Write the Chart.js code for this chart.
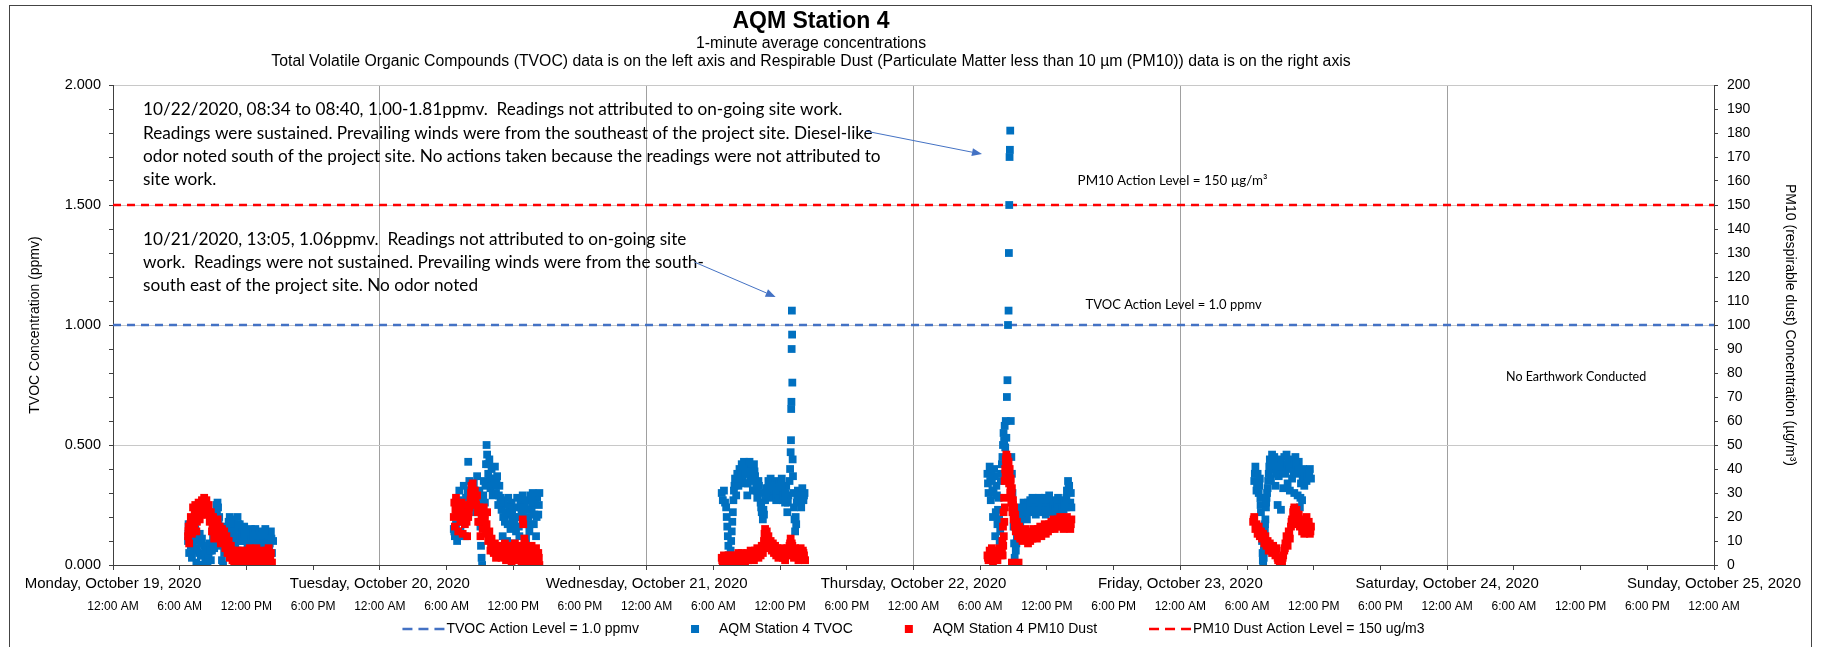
<!DOCTYPE html>
<html>
<head>
<meta charset="utf-8">
<title>AQM Station 4</title>
<script src="https://cdn.jsdelivr.net/npm/chart.js@4.4.0/dist/chart.umd.min.js"></script>
<style>
  html, body { margin: 0; padding: 0; background: #fff; }
  canvas { display: block; }
</style>
</head>
<body>
<canvas id="aqmChart" width="1821" height="647"></canvas>
<script>
// readings as [hour of day, value]; one list per day with data
const tvocOct19 = [[6.75,0.10],[6.8,0.17],[6.85,0.05],[6.9,0.14],[7.0,0.08],[7.05,0.16],[7.1,0.03],[7.2,0.12],[7.3,0.06],[7.4,0.15],[7.5,0.01],[7.6,0.10],[7.7,0.00],[7.8,0.13],[7.9,0.04],[8.0,0.11],[8.1,0.00],[8.2,0.08],[8.3,0.02],[8.4,0.07],[8.5,0.00],[8.6,0.05],[8.7,0.09],[8.8,0.02],[8.9,0.06],[9.0,0.12],[9.1,0.07],[9.2,0.19],[9.3,0.25],[9.35,0.21],[9.45,0.24],[9.5,0.17],[9.6,0.12],[9.7,0.08],[9.8,0.02],[9.9,0.00],[10.0,0.05],[10.1,0.10],[10.2,0.16],[10.3,0.13],[10.4,0.18],[10.5,0.20],[10.6,0.14],[10.7,0.19],[10.8,0.11],[10.9,0.17],[11.0,0.08],[11.1,0.15],[11.2,0.20],[11.3,0.12],[11.4,0.17],[11.5,0.06],[11.6,0.14],[11.7,0.10],[11.8,0.16],[11.9,0.04],[12.0,0.13],[12.1,0.08],[12.2,0.00],[12.3,0.12],[12.4,0.15],[12.5,0.06],[12.6,0.14],[12.7,0.09],[12.8,0.15],[12.9,0.03],[13.0,0.12],[13.1,0.07],[13.2,0.14],[13.3,0.05],[13.4,0.13],[13.5,0.00],[13.6,0.10],[13.7,0.15],[13.8,0.06],[13.9,0.12],[14.0,0.02],[14.1,0.09],[14.2,0.14],[14.3,0.05],[14.4,0.10],
  [6.78,0.13],[6.95,0.11],[7.15,0.09],[7.35,0.12],[7.55,0.07],[7.75,0.05],[7.95,0.09],[8.15,0.04],[8.35,0.05],[8.55,0.03],[8.75,0.06],[9.05,0.09],[9.25,0.22],[9.4,0.26],[9.55,0.20],[10.05,0.08],[10.25,0.11],[10.45,0.15],[10.65,0.17],[10.85,0.14],[11.05,0.12],[11.25,0.17],[11.45,0.10],[11.65,0.12],[11.85,0.13],[12.05,0.10],[12.25,0.06],[12.45,0.11],[12.65,0.12],[12.85,0.12],[13.05,0.09],[13.25,0.11],[13.45,0.09],[13.65,0.13],[13.85,0.09],[14.05,0.06],[14.25,0.11]];
const pm10Oct19 = [[6.75,12],[6.8,16],[6.85,9],[6.9,14],[7.0,20],[7.1,13],[7.2,24],[7.3,17],[7.4,25],[7.5,14],[7.6,22],[7.7,26],[7.8,19],[7.9,25],[8.0,27],[8.1,22],[8.2,28],[8.3,24],[8.4,27],[8.5,21],[8.6,25],[8.7,18],[8.8,22],[8.9,14],[9.0,20],[9.1,11],[9.2,18],[9.3,15],[9.4,19],[9.5,12],[9.6,16],[9.7,9],[9.8,15],[9.9,10],[10.0,14],[10.1,7],[10.2,12],[10.3,5],[10.4,10],[10.5,3],[10.6,8],[10.7,4],[10.8,6],[10.9,1],[11.0,5],[11.1,2],[11.2,6],[11.3,0],[11.4,4],[11.5,2],[11.6,6],[11.7,1],[11.8,5],[11.9,0],[12.0,3],[12.1,6],[12.2,2],[12.3,7],[12.4,3],[12.5,0],[12.6,5],[12.7,1],[12.8,4],[12.9,7],[13.0,2],[13.1,5],[13.2,0],[13.3,4],[13.4,6],[13.5,2],[13.6,5],[13.7,1],[13.8,6],[13.9,3],[14.0,7],[14.1,2],[14.2,5],[14.3,1],
  [6.78,14],[6.95,17],[7.15,18],[7.35,21],[7.55,18],[7.75,23],[7.95,21],[8.15,25],[8.35,21],[8.55,23],[8.75,20],[8.95,17],[9.15,15],[9.35,17],[9.55,14],[9.75,12],[9.95,12],[10.15,9],[10.35,7],[10.55,6],[10.75,2],[10.95,3],[11.15,4],[11.35,2],[11.55,4],[11.75,3],[11.95,2],[12.15,4],[12.35,5],[12.55,3],[12.75,3],[12.95,5],[13.15,3],[13.35,2],[13.55,4],[13.75,3],[13.95,5],[14.15,4]];

const tvocOct20 = [[6.65,0.15],[6.75,0.12],[6.85,0.17],[6.95,0.10],[7.05,0.22],[7.15,0.31],[7.25,0.14],[7.35,0.26],[7.45,0.18],[7.55,0.33],[7.65,0.12],[7.75,0.28],[7.85,0.22],[7.95,0.43],[8.05,0.35],[8.15,0.27],[8.25,0.30],[8.35,0.24],[8.45,0.34],[8.55,0.29],[8.65,0.22],[8.75,0.37],[8.85,0.25],[8.95,0.31],[9.05,0.16],[9.1,0.08],[9.15,0.03],[9.2,0.00],[9.25,0.20],[9.35,0.35],[9.45,0.26],[9.55,0.42],[9.6,0.50],[9.65,0.46],[9.75,0.38],[9.85,0.44],[9.95,0.32],[10.05,0.40],[10.15,0.29],[10.25,0.36],[10.35,0.41],[10.45,0.30],[10.55,0.37],[10.65,0.25],[10.75,0.33],[10.85,0.28],[10.95,0.23],[11.05,0.12],[11.15,0.27],[11.25,0.18],[11.35,0.25],[11.45,0.10],[11.55,0.28],[11.65,0.21],[11.75,0.15],[11.85,0.26],[11.95,0.19],[12.05,0.09],[12.15,0.24],[12.25,0.14],[12.35,0.28],[12.45,0.20],[12.55,0.12],[12.65,0.27],[12.75,0.22],[12.85,0.29],[12.95,0.17],[13.05,0.25],[13.15,0.11],[13.25,0.27],[13.35,0.20],[13.45,0.14],[13.55,0.29],[13.65,0.23],[13.75,0.30],[13.85,0.17],[13.95,0.26],[14.05,0.12],[14.15,0.28],[14.25,0.21],[14.35,0.30],
  [6.7,0.14],[6.9,0.13],[7.1,0.27],[7.3,0.20],[7.5,0.24],[7.7,0.19],[7.9,0.31],[8.1,0.31],[8.3,0.27],[8.5,0.31],[8.7,0.27],[8.9,0.28],[9.3,0.29],[9.5,0.33],[9.7,0.42],[9.9,0.36],[10.1,0.34],[10.3,0.33],[10.5,0.34],[10.7,0.29],[10.9,0.26],[11.1,0.20],[11.3,0.22],[11.5,0.17],[11.7,0.24],[11.9,0.22],[12.1,0.17],[12.3,0.20],[12.5,0.16],[12.7,0.24],[12.9,0.23],[13.1,0.18],[13.3,0.23],[13.5,0.17],[13.7,0.26],[13.9,0.21],[14.1,0.20],[14.3,0.25]];
const pm10Oct20 = [[6.65,20],[6.7,26],[6.75,16],[6.85,28],[6.95,22],[7.05,14],[7.15,24],[7.25,18],[7.35,26],[7.45,13],[7.55,22],[7.65,17],[7.75,25],[7.85,12],[7.95,20],[8.05,24],[8.15,27],[8.25,33],[8.3,30],[8.35,34],[8.45,28],[8.55,31],[8.65,25],[8.75,29],[8.85,18],[8.95,24],[9.05,12],[9.15,21],[9.25,15],[9.35,24],[9.45,19],[9.55,13],[9.65,22],[9.75,10],[9.85,14],[9.95,6],[10.05,11],[10.15,8],[10.25,5],[10.35,9],[10.45,3],[10.55,7],[10.65,4],[10.75,8],[10.85,5],[10.95,3],[11.05,7],[11.15,4],[11.25,9],[11.35,2],[11.45,6],[11.55,3],[11.65,8],[11.75,5],[11.85,1],[11.95,7],[12.05,4],[12.15,9],[12.25,2],[12.35,6],[12.45,3],[12.55,8],[12.65,5],[12.75,1],[12.85,19],[12.9,17],[12.95,6],[13.0,11],[13.05,9],[13.15,3],[13.25,7],[13.35,0],[13.45,5],[13.55,2],[13.65,8],[13.75,4],[13.85,6],[13.95,1],[14.05,7],[14.15,3],[14.25,5],[14.35,0],
  [6.8,23],[7.0,25],[7.2,21],[7.4,20],[7.6,19],[7.8,18],[8.0,22],[8.2,30],[8.4,31],[8.6,27],[8.8,22],[9.0,18],[9.2,18],[9.4,21],[9.6,17],[9.8,12],[10.0,9],[10.2,6],[10.4,6],[10.6,5],[10.8,6],[11.0,5],[11.2,6],[11.4,4],[11.6,5],[11.8,3],[12.0,5],[12.2,6],[12.4,4],[12.6,6],[12.8,3],[13.1,6],[13.3,4],[13.5,3],[13.7,6],[13.9,4],[14.1,5],[14.3,3]];

const tvocOct21 = [[6.75,0.30],[6.85,0.27],[6.95,0.31],[7.05,0.26],[7.15,0.24],[7.2,0.20],[7.25,0.16],[7.3,0.12],[7.35,0.08],[7.4,0.04],[7.45,0.00],[7.5,0.02],[7.55,0.06],[7.6,0.10],[7.65,0.14],[7.7,0.18],[7.75,0.22],[7.8,0.27],[7.85,0.31],[7.95,0.36],[8.05,0.29],[8.15,0.38],[8.25,0.33],[8.35,0.40],[8.45,0.35],[8.55,0.42],[8.65,0.37],[8.75,0.43],[8.85,0.34],[8.95,0.41],[9.05,0.29],[9.15,0.38],[9.25,0.43],[9.35,0.36],[9.45,0.40],[9.55,0.31],[9.65,0.42],[9.75,0.37],[9.85,0.33],[9.95,0.28],[10.05,0.35],[10.15,0.30],[10.25,0.26],[10.35,0.22],[10.45,0.19],[10.55,0.21],[10.65,0.27],[10.75,0.32],[10.85,0.29],[10.95,0.35],[11.05,0.31],[11.15,0.36],[11.25,0.28],[11.35,0.33],[11.45,0.30],[11.55,0.35],[11.65,0.27],[11.75,0.32],[11.85,0.29],[11.95,0.34],[12.05,0.30],[12.15,0.36],[12.25,0.27],[12.35,0.31],[12.45,0.26],[12.55,0.33],[12.65,0.22],[12.75,0.29],[12.85,0.35],[12.9,0.40],[12.95,0.47],[12.98,0.52],[13.0,0.65],[13.02,0.68],[13.04,0.90],[13.06,1.06],[13.08,0.96],[13.1,0.76],[13.13,0.44],[13.16,0.37],[13.2,0.30],[13.25,0.24],[13.3,0.19],[13.35,0.14],[13.4,0.20],[13.5,0.26],[13.6,0.31],[13.7,0.27],[13.8,0.30],[13.9,0.24],[14.0,0.32],[14.1,0.27],[14.2,0.30],
  [7.9,0.33],[8.1,0.34],[8.3,0.36],[8.5,0.38],[8.7,0.40],[8.9,0.38],[9.1,0.34],[9.3,0.39],[9.5,0.35],[9.7,0.39],[9.9,0.31],[10.1,0.33],[10.3,0.24],[10.5,0.23],[10.7,0.30],[10.9,0.32],[11.1,0.33],[11.3,0.31],[11.5,0.32],[11.7,0.30],[11.9,0.31],[12.1,0.33],[12.3,0.29],[12.5,0.30],[12.7,0.26],[13.45,0.17],[13.55,0.29],[13.75,0.29],[13.95,0.28],[14.15,0.29]];
const pm10Oct21 = [[6.75,3],[6.85,1],[6.95,4],[7.05,0],[7.15,3],[7.25,1],[7.35,4],[7.45,0],[7.55,2],[7.65,4],[7.75,1],[7.85,3],[7.95,0],[8.05,4],[8.15,2],[8.25,5],[8.35,1],[8.45,3],[8.55,5],[8.65,2],[8.75,4],[8.85,1],[8.95,3],[9.05,5],[9.15,2],[9.25,4],[9.35,6],[9.45,3],[9.55,5],[9.65,2],[9.75,6],[9.85,4],[9.95,7],[10.05,3],[10.15,6],[10.25,4],[10.35,8],[10.45,5],[10.55,10],[10.6,13],[10.65,15],[10.7,12],[10.8,14],[10.85,9],[10.95,12],[11.05,7],[11.15,10],[11.25,6],[11.35,9],[11.45,5],[11.55,8],[11.65,4],[11.75,7],[11.85,3],[11.95,6],[12.05,4],[12.15,7],[12.25,3],[12.35,6],[12.45,2],[12.55,5],[12.65,7],[12.75,4],[12.85,8],[12.95,11],[13.05,9],[13.15,6],[13.25,3],[13.35,7],[13.45,4],[13.55,6],[13.65,2],[13.75,5],[13.85,7],[13.95,3],[14.05,6],[14.15,4],[14.25,2],
  [6.8,2],[7.0,2],[7.2,2],[7.4,2],[7.6,3],[7.8,2],[8.0,2],[8.2,3],[8.4,2],[8.6,4],[8.8,3],[9.0,4],[9.2,3],[9.4,4],[9.6,4],[9.8,5],[10.0,5],[10.2,5],[10.4,6],[10.75,13],[10.9,11],[11.1,9],[11.3,8],[11.5,7],[11.7,6],[11.9,5],[12.1,5],[12.3,5],[12.5,4],[12.7,6],[12.9,9],[13.1,8],[13.3,5],[13.5,5],[13.7,4],[13.9,5],[14.1,5]];

const tvocOct22 = [[6.65,0.38],[6.75,0.30],[6.85,0.41],[6.95,0.27],[7.05,0.36],[7.15,0.20],[7.25,0.40],[7.35,0.12],[7.45,0.33],[7.55,0.17],[7.65,0.28],[7.75,0.10],[7.85,0.35],[7.95,0.42],[8.0,0.45],[8.05,0.50],[8.1,0.55],[8.15,0.52],[8.2,0.58],[8.25,0.49],[8.3,0.60],[8.35,0.53],[8.4,0.70],[8.45,0.77],[8.5,1.00],[8.55,1.06],[8.58,1.30],[8.61,1.50],[8.64,1.70],[8.67,1.73],[8.7,1.81],[8.75,0.60],[8.8,0.45],[8.85,0.38],[8.9,0.30],[8.95,0.23],[9.0,0.16],[9.05,0.09],[9.1,0.03],[9.15,0.00],[9.2,0.06],[9.3,0.12],[9.4,0.18],[9.5,0.22],[9.6,0.17],[9.7,0.24],[9.8,0.20],[9.9,0.26],[10.0,0.21],[10.1,0.25],[10.2,0.19],[10.3,0.26],[10.4,0.22],[10.5,0.27],[10.6,0.23],[10.7,0.28],[10.8,0.24],[10.9,0.27],[11.0,0.21],[11.1,0.26],[11.2,0.23],[11.3,0.28],[11.4,0.25],[11.5,0.22],[11.6,0.27],[11.7,0.24],[11.8,0.28],[11.9,0.21],[12.0,0.26],[12.1,0.23],[12.2,0.29],[12.3,0.25],[12.4,0.22],[12.5,0.27],[12.6,0.24],[12.7,0.20],[12.8,0.26],[12.9,0.23],[13.0,0.28],[13.1,0.22],[13.2,0.25],[13.3,0.20],[13.4,0.26],[13.5,0.23],[13.6,0.27],[13.7,0.24],[13.8,0.31],[13.9,0.35],[14.0,0.33],[14.1,0.26],[14.2,0.24],
  [6.7,0.34],[6.9,0.35],[7.0,0.39],[7.1,0.31],[7.2,0.30],[7.3,0.37],[7.4,0.22],[7.5,0.29],[7.6,0.23],[7.7,0.19],[7.8,0.14],[7.9,0.38],[9.25,0.09],[9.35,0.15],[9.45,0.20],[9.55,0.19],[9.65,0.21],[9.75,0.22],[9.85,0.23],[9.95,0.24],[10.15,0.22],[10.35,0.24],[10.55,0.25],[10.75,0.26],[10.95,0.24],[11.15,0.24],[11.35,0.26],[11.55,0.25],[11.75,0.26],[11.95,0.24],[12.15,0.26],[12.35,0.24],[12.55,0.25],[12.75,0.23],[12.95,0.25],[13.15,0.24],[13.35,0.23],[13.55,0.25],[13.75,0.28],[13.95,0.32],[14.15,0.30]];
const pm10Oct22 = [[6.65,4],[6.75,2],[6.85,6],[6.95,3],[7.05,7],[7.15,1],[7.25,5],[7.35,3],[7.45,6],[7.55,2],[7.65,5],[7.75,7],[7.85,4],[7.95,6],[8.0,10],[8.05,16],[8.1,22],[8.15,28],[8.2,35],[8.25,40],[8.3,44],[8.35,46],[8.4,42],[8.45,45],[8.5,38],[8.55,43],[8.6,34],[8.65,40],[8.7,30],[8.75,36],[8.8,26],[8.85,1],[8.85,32],[8.9,22],[8.95,27],[9.0,19],[9.05,24],[9.1,16],[9.15,21],[9.2,14],[9.3,18],[9.4,12],[9.45,1],[9.5,16],[9.6,11],[9.7,14],[9.8,10],[9.9,13],[10.0,11],[10.1,15],[10.2,12],[10.3,9],[10.4,13],[10.5,10],[10.6,14],[10.7,11],[10.8,15],[10.9,12],[11.0,14],[11.1,11],[11.2,15],[11.3,13],[11.4,16],[11.5,12],[11.6,15],[11.7,14],[11.8,17],[11.9,13],[12.0,16],[12.1,14],[12.2,17],[12.3,15],[12.4,18],[12.5,16],[12.6,19],[12.7,15],[12.8,18],[12.9,16],[13.0,19],[13.1,17],[13.2,20],[13.3,16],[13.4,18],[13.5,15],[13.6,19],[13.7,17],[13.8,20],[13.9,16],[14.0,18],[14.1,15],[14.2,19],
  [6.7,3],[6.9,5],[7.1,4],[7.3,4],[7.5,4],[7.7,6],[7.9,5],[8.02,4],[8.07,8],[8.12,12],[8.17,18],[8.22,24],[8.28,38],[8.33,41],[8.43,44],[8.53,40],[8.63,37],[8.73,33],[8.83,29],[8.93,25],[9.03,21],[9.13,18],[9.25,16],[9.35,15],[9.55,13],[9.75,12],[9.95,12],[10.15,13],[10.35,11],[10.55,12],[10.75,13],[10.95,13],[11.15,13],[11.35,14],[11.55,14],[11.75,15],[11.95,15],[12.15,16],[12.35,16],[12.55,17],[12.75,17],[12.95,17],[13.15,18],[13.35,17],[13.55,17],[13.75,18],[13.95,17],[14.15,17]];

const tvocOct23 = [[6.65,0.35],[6.75,0.41],[6.85,0.31],[6.95,0.38],[7.05,0.30],[7.15,0.36],[7.2,0.28],[7.25,0.22],[7.3,0.16],[7.35,0.10],[7.4,0.05],[7.45,0.00],[7.5,0.03],[7.55,0.08],[7.6,0.14],[7.65,0.19],[7.7,0.24],[7.75,0.28],[7.85,0.32],[7.95,0.38],[8.05,0.44],[8.15,0.36],[8.25,0.46],[8.35,0.40],[8.45,0.45],[8.55,0.33],[8.65,0.42],[8.75,0.25],[8.85,0.37],[8.95,0.44],[9.05,0.23],[9.15,0.40],[9.25,0.32],[9.35,0.45],[9.45,0.38],[9.55,0.46],[9.65,0.34],[9.75,0.43],[9.85,0.31],[9.95,0.44],[10.05,0.36],[10.15,0.42],[10.25,0.30],[10.35,0.45],[10.45,0.38],[10.55,0.29],[10.65,0.43],[10.75,0.24],[10.85,0.34],[10.95,0.27],[11.05,0.40],[11.15,0.33],[11.25,0.38],[11.35,0.35],[11.45,0.39],[11.55,0.37],[11.65,0.40],[11.75,0.36],
  [6.7,0.38],[6.9,0.34],[7.1,0.33],[7.22,0.25],[7.32,0.13],[7.42,0.02],[7.52,0.06],[7.62,0.17],[7.72,0.26],[7.8,0.30],[7.9,0.35],[8.0,0.41],[8.1,0.40],[8.2,0.42],[8.3,0.43],[8.4,0.42],[8.5,0.40],[8.6,0.38],[8.8,0.40],[9.0,0.41],[9.2,0.42],[9.4,0.41],[9.6,0.42],[9.8,0.40],[10.0,0.41],[10.2,0.39],[10.4,0.42],[10.6,0.40],[10.8,0.28],[11.0,0.37],[11.2,0.36],[11.4,0.37],[11.6,0.38]];
const pm10Oct23 = [[6.55,18],[6.65,20],[6.75,15],[6.85,17],[6.95,13],[7.05,16],[7.15,12],[7.25,14],[7.35,11],[7.45,13],[7.55,9],[7.65,12],[7.75,8],[7.85,10],[7.95,6],[8.05,9],[8.15,7],[8.25,5],[8.35,8],[8.45,6],[8.55,4],[8.65,7],[8.75,3],[8.85,2],[8.95,1],[9.05,3],[9.15,1],[9.25,4],[9.35,6],[9.45,9],[9.55,12],[9.65,8],[9.75,14],[9.85,11],[9.95,16],[10.05,19],[10.15,22],[10.25,24],[10.35,20],[10.45,23],[10.55,17],[10.65,21],[10.75,16],[10.85,19],[10.95,14],[11.05,18],[11.15,13],[11.25,17],[11.35,20],[11.45,15],[11.55,18],[11.65,13],[11.75,16],
  [6.6,19],[6.8,16],[7.0,14],[7.2,13],[7.4,12],[7.6,10],[7.8,9],[8.0,8],[8.2,6],[8.4,6],[8.6,5],[8.8,2],[9.0,2],[9.2,3],[9.4,7],[9.6,10],[9.8,13],[10.0,18],[10.2,23],[10.4,22],[10.6,19],[10.8,17],[11.0,16],[11.2,15],[11.4,17],[11.6,16],[11.7,14]];

const tvocActionLevel = 1.0;   // ppmv
const pm10ActionLevel = 150;   // ug/m3

const dayLabels = ['Monday, October 19, 2020', 'Tuesday, October 20, 2020', 'Wednesday, October 21, 2020',
  'Thursday, October 22, 2020', 'Friday, October 23, 2020', 'Saturday, October 24, 2020', 'Sunday, October 25, 2020'];
const timeLabels = ['12:00 AM', '6:00 AM', '12:00 PM', '6:00 PM'];

const noteOct22 = [
  '10/22/2020, 08:34 to 08:40, 1.00-1.81ppmv.  Readings not attributed to on-going site work.',
  'Readings were sustained. Prevailing winds were from the southeast of the project site. Diesel-like',
  'odor noted south of the project site. No actions taken because the readings were not attributed to',
  'site work.'
];
const noteOct21 = [
  '10/21/2020, 13:05, 1.06ppmv.  Readings not attributed to on-going site',
  'work.  Readings were not sustained. Prevailing winds were from the south-',
  'south east of the project site. No odor noted'
];

const TVOC_BLUE = '#0070C0';
const PM_RED = '#FF0000';
const LEVEL_BLUE = '#4472C4';
const AXIS_FONT = '"Liberation Sans", Arial, sans-serif';
const NOTE_FONT = 'Lato, "Liberation Sans", sans-serif';
const TOTAL_HOURS = 144;

// day 0 is Monday, October 19
function toPoints(days) {
  const pts = [];
  days.forEach((readings, day) => {
    readings.forEach(r => pts.push({ x: day * 24 + r[0], y: r[1] }));
  });
  return pts;
}

const tvocPoints = toPoints([tvocOct19, tvocOct20, tvocOct21, tvocOct22, tvocOct23]);
const pm10Points = toPoints([pm10Oct19, pm10Oct20, pm10Oct21, pm10Oct22, pm10Oct23]);

function isStep(v, step) {
  return Math.abs(v / step - Math.round(v / step)) < 1e-6;
}

function drawArrow(ctx, x1, y1, x2, y2) {
  const a = Math.atan2(y2 - y1, x2 - x1);
  const len = 10, half = 4;
  ctx.beginPath();
  ctx.moveTo(x1, y1);
  ctx.lineTo(x2 - len * Math.cos(a), y2 - len * Math.sin(a));
  ctx.stroke();
  ctx.beginPath();
  ctx.moveTo(x2, y2);
  ctx.lineTo(x2 - len * Math.cos(a) + half * Math.sin(a), y2 - len * Math.sin(a) - half * Math.cos(a));
  ctx.lineTo(x2 - len * Math.cos(a) - half * Math.sin(a), y2 - len * Math.sin(a) + half * Math.cos(a));
  ctx.closePath();
  ctx.fill();
}

const decorPlugin = {
  id: 'decor',
  beforeDraw(chart) {
    const ctx = chart.ctx;
    ctx.save();
    ctx.fillStyle = '#fff';
    ctx.fillRect(0, 0, chart.width, chart.height);
    ctx.strokeStyle = '#444';
    ctx.lineWidth = 1;
    ctx.strokeRect(9.5, 5.5, 1802, 700);
    ctx.restore();
  },
  afterDraw(chart) {
    const ctx = chart.ctx;
    const xs = chart.scales.x, ys = chart.scales.y, y1s = chart.scales.y1;
    ctx.save();

    // titles
    ctx.fillStyle = '#000';
    ctx.textAlign = 'center';
    ctx.textBaseline = 'middle';
    ctx.font = 'bold 23px ' + AXIS_FONT;
    ctx.fillText('AQM Station 4', 811, 22);
    ctx.font = '15.8px ' + AXIS_FONT;
    ctx.fillText('1-minute average concentrations', 811, 44);
    ctx.fillText('Total Volatile Organic Compounds (TVOC) data is on the left axis and Respirable Dust (Particulate Matter less than 10 \u00b5m (PM10)) data is on the right axis', 811, 62);

    // event notes
    ctx.textAlign = 'left';
    ctx.font = '17.2px ' + NOTE_FONT;
    const noteX = xs.getPixelForValue(2.7);
    let ny = ys.getPixelForValue(1.896);
    noteOct22.forEach(line => { ctx.fillText(line, noteX, ny); ny += 23.3; });
    ny = ys.getPixelForValue(1.358);
    noteOct21.forEach(line => { ctx.fillText(line, noteX, ny); ny += 23.3; });

    ctx.textAlign = 'center';
    ctx.font = '13.4px ' + NOTE_FONT;
    ctx.fillText('PM10 Action Level = 150 \u00b5g/m\u00b3', xs.getPixelForValue(95.3), y1s.getPixelForValue(160));
    ctx.font = '13px ' + NOTE_FONT;
    ctx.fillText('TVOC Action Level = 1.0 ppmv', xs.getPixelForValue(95.4), ys.getPixelForValue(1.083));
    ctx.font = '12.5px ' + NOTE_FONT;
    ctx.fillText('No Earthwork Conducted', xs.getPixelForValue(131.6), ys.getPixelForValue(0.783));

    ctx.strokeStyle = LEVEL_BLUE;
    ctx.fillStyle = LEVEL_BLUE;
    ctx.lineWidth = 1;
    drawArrow(ctx, xs.getPixelForValue(67.7), ys.getPixelForValue(1.808), xs.getPixelForValue(78.16), ys.getPixelForValue(1.712));
    drawArrow(ctx, xs.getPixelForValue(52.3), ys.getPixelForValue(1.262), xs.getPixelForValue(59.6), ys.getPixelForValue(1.117));

    // legend
    ctx.font = '14px ' + AXIS_FONT;
    const items = chart.data.datasets.map(ds => ({
      dashed: ds.type === 'line',
      color: ds.type === 'line' ? ds.borderColor : ds.backgroundColor,
      text: ds.label
    }));
    const gap = 52;
    const widths = items.map(it => (it.dashed ? 44 : 28) + ctx.measureText(it.text).width);
    const total = widths.reduce((a, b) => a + b, 0) + gap * (items.length - 1);
    let lx = (chart.chartArea.left + chart.chartArea.right) / 2 - total / 2;
    const ly = 629;
    ctx.textAlign = 'left';
    items.forEach((it, i) => {
      if (it.dashed) {
        ctx.strokeStyle = it.color;
        ctx.lineWidth = 2.5;
        ctx.setLineDash([10, 6]);
        ctx.beginPath();
        ctx.moveTo(lx, ly);
        ctx.lineTo(lx + 42, ly);
        ctx.stroke();
        ctx.setLineDash([]);
        ctx.fillStyle = '#000';
        ctx.fillText(it.text, lx + 44, ly);
      } else {
        ctx.fillStyle = it.color;
        ctx.fillRect(lx, ly - 4, 8, 8);
        ctx.fillStyle = '#000';
        ctx.fillText(it.text, lx + 28, ly);
      }
      lx += widths[i] + gap;
    });
    ctx.restore();
  }
};

new Chart(document.getElementById('aqmChart'), {
  type: 'scatter',
  data: {
    datasets: [
      {
        type: 'line',
        label: 'TVOC Action Level = 1.0 ppmv',
        data: [{ x: 0, y: tvocActionLevel }, { x: TOTAL_HOURS, y: tvocActionLevel }],
        showLine: true,
        borderColor: LEVEL_BLUE,
        borderWidth: 2.5,
        borderDash: [8, 6],
        pointRadius: 0,
        yAxisID: 'y',
        order: 3
      },
      {
        label: 'AQM Station 4 TVOC',
        data: tvocPoints,
        backgroundColor: TVOC_BLUE,
        borderWidth: 0,
        pointStyle: 'rect',
        pointRadius: 5.5,
        yAxisID: 'y',
        order: 1
      },
      {
        label: 'AQM Station 4 PM10 Dust',
        data: pm10Points,
        backgroundColor: PM_RED,
        borderWidth: 0,
        pointStyle: 'rect',
        pointRadius: 5.5,
        yAxisID: 'y1',
        order: 0
      },
      {
        type: 'line',
        label: 'PM10 Dust Action Level = 150 ug/m3',
        data: [{ x: 0, y: pm10ActionLevel }, { x: TOTAL_HOURS, y: pm10ActionLevel }],
        showLine: true,
        borderColor: PM_RED,
        borderWidth: 2.5,
        borderDash: [8, 6],
        pointRadius: 0,
        yAxisID: 'y1',
        order: 2
      }
    ]
  },
  options: {
    responsive: false,
    animation: false,
    events: [],
    layout: { padding: { left: 10, right: 10, top: 85, bottom: 30 } },
    plugins: {
      legend: { display: false },
      tooltip: { enabled: false }
    },
    scales: {
      x: {
        type: 'linear',
        position: 'bottom',
        min: 0,
        max: TOTAL_HOURS,
        afterFit: s => { s.height = 27; },
        ticks: {
          stepSize: 6,
          autoSkip: false,
          maxRotation: 0,
          minRotation: 0,
          padding: 5,
          color: '#000',
          font: { family: AXIS_FONT, size: 15 },
          callback: v => (isStep(v, 24) ? dayLabels[Math.round(v / 24)] : '')
        },
        grid: {
          color: c => (c.tick && isStep(c.tick.value, 24) ? '#a0a0a0' : 'rgba(0,0,0,0)'),
          tickColor: '#404040',
          tickLength: 5
        },
        border: { color: '#404040' }
      },
      xTime: {
        type: 'linear',
        position: 'bottom',
        min: 0,
        max: TOTAL_HOURS,
        afterFit: s => { s.height = 25; },
        ticks: {
          stepSize: 6,
          autoSkip: false,
          maxRotation: 0,
          minRotation: 0,
          padding: 7,
          color: '#000',
          font: { family: AXIS_FONT, size: 12 },
          callback: v => timeLabels[Math.round(v / 6) % 4]
        },
        grid: { display: false, drawTicks: false },
        border: { display: false }
      },
      y: {
        position: 'left',
        min: 0,
        max: 2,
        afterFit: s => { s.width = 103; },
        ticks: {
          stepSize: 0.1,
          autoSkip: false,
          padding: 8,
          color: '#000',
          font: { family: AXIS_FONT, size: 14.5 },
          callback: v => (isStep(v, 0.5) ? v.toFixed(3) : '')
        },
        grid: {
          color: c => (c.tick && isStep(c.tick.value, 0.5) ? '#c8c8c8' : 'rgba(0,0,0,0)'),
          tickColor: '#404040',
          tickLength: 4
        },
        border: { color: '#404040' },
        title: {
          display: true,
          text: 'TVOC Concentration (ppmv)',
          color: '#000',
          font: { family: AXIS_FONT, size: 14 },
          padding: { top: 16.6, bottom: 0 }
        }
      },
      y1: {
        position: 'right',
        min: 0,
        max: 200,
        afterFit: s => { s.width = 97; },
        ticks: {
          stepSize: 10,
          autoSkip: false,
          padding: 9,
          color: '#000',
          font: { family: AXIS_FONT, size: 14 }
        },
        grid: { drawOnChartArea: false, tickColor: '#404040', tickLength: 4 },
        border: { color: '#404040' },
        title: {
          display: true,
          text: 'PM10 (respirable dust) Concentration (\u00b5g/m\u00b3)',
          color: '#000',
          font: { family: AXIS_FONT, size: 14 },
          padding: { top: 13, bottom: 0 }
        }
      }
    }
  },
  plugins: [decorPlugin]
});
</script>
</body>
</html>
